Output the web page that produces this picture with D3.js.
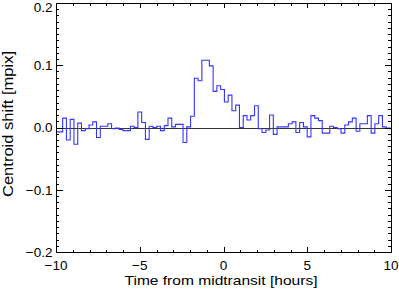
<!DOCTYPE html>
<html><head><meta charset="utf-8">
<script src="https://cdn.jsdelivr.net/npm/d3@7"></script>
<style>
html,body{margin:0;padding:0;background:#fff;}
svg{display:block;}
text{font-family:"Liberation Sans",Arial,Helvetica,sans-serif;fill:#000;}
</style></head>
<body>
<svg id="c" width="399" height="291"></svg>
<script>
// ---- data ----
const binStart = -10.052;     // left edge of first bin [hours]
const binWidth = 0.2246;      // bin width [hours]
const shiftValues = [
 -0.007,-0.007, 0.015,-0.020, 0.013,-0.027, 0.007,-0.005,-0.002, 0.004,
  0.009,-0.016, 0.002, 0.002, 0.006,-0.002,-0.001,-0.003,-0.005,-0.005,
  0.002, 0.000, 0.025, 0.008,-0.019, 0.002, 0.000, 0.002,-0.005, 0.003,
  0.015, 0.001, 0.005, 0.005,-0.024, 0.001, 0.018, 0.079, 0.075, 0.108,
  0.108, 0.099, 0.058, 0.067, 0.061, 0.041, 0.052, 0.027, 0.036, 0.000,
  0.019, 0.012, 0.019, 0.035,-0.002,-0.008,-0.004, 0.020,-0.011, 0.001,
  0.001, 0.001, 0.006, 0.009,-0.008, 0.008, 0.001,-0.015, 0.019, 0.015,
  0.011,-0.009,-0.009, 0.002, 0.000,-0.002,-0.009, 0.004, 0.009, 0.015,
 -0.006, 0.006, 0.006, 0.019,-0.009, 0.006, 0.019, 0.001,-0.001,-0.002
];
const xMajorTicks = [-10, -5, 0, 5, 10];
const xTickLabels = ["\u221210", "\u22125", "0", "5", "10"];
const yMajorTicks = [0.2, 0.1, 0.0, -0.1, -0.2];
const yTickLabels = ["0.2", "0.1", "0.0", "\u22120.1", "\u22120.2"];
const xTitle = "Time from midtransit [hours]";
const yTitle = "Centroid shift [mpix]";

// ---- layout ----
const L = 56, R = 391, T = 3, B = 252;
const svg = d3.select("#c");
const x = d3.scaleLinear().domain([-10, 10]).range([L, R]);
const y = d3.scaleLinear().domain([-0.2, 0.2]).range([B, T]);

const defs = svg.append("defs");
defs.append("clipPath").attr("id", "clip").append("rect")
  .attr("x", L).attr("y", T).attr("width", R - L).attr("height", B - T);

// zero line
svg.append("line")
  .attr("x1", L).attr("x2", R).attr("y1", Math.round(y(0)) + 0.5).attr("y2", Math.round(y(0)) + 0.5)
  .attr("stroke", "#333").attr("stroke-width", 1);

// step histogram
const pts = shiftValues.map((v, i) => [binStart + i * binWidth, v]);
pts.push([binStart + shiftValues.length * binWidth, shiftValues[shiftValues.length - 1]]);
const line = d3.line().x(d => x(d[0])).y(d => y(d[1])).curve(d3.curveStepAfter);
svg.append("path").attr("d", line(pts)).attr("clip-path", "url(#clip)")
  .attr("fill", "none").attr("stroke", "#3535ff").attr("stroke-width", 1.1);

// axes box with inward ticks
const g = svg.append("g").attr("stroke", "#000").attr("stroke-width", 1).attr("shape-rendering", "crispEdges");
g.append("rect").attr("x", L).attr("y", T).attr("width", R - L).attr("height", B - T).attr("fill", "none");

const xMinor = x.ticks(20);
xMinor.forEach(t => {
  const major = xMajorTicks.includes(t);
  const len = major ? 5 : 2.5;
  const px = Math.round(x(t)) + 0.5;
  g.append("line").attr("x1", px).attr("x2", px).attr("y1", B).attr("y2", B - len);
  g.append("line").attr("x1", px).attr("x2", px).attr("y1", T).attr("y2", T + len);
});
const yMinor = y.ticks(40);
yMinor.forEach(t => {
  const major = yMajorTicks.some(m => Math.abs(m - t) < 1e-9);
  const len = major ? 6.5 : 3.3;
  const py = Math.round(y(t)) + 0.5;
  g.append("line").attr("x1", L).attr("x2", L + len).attr("y1", py).attr("y2", py);
  g.append("line").attr("x1", R).attr("x2", R - len).attr("y1", py).attr("y2", py);
});

// tick labels
xMajorTicks.forEach((t, i) => {
  svg.append("text").attr("x", x(t)).attr("y", 270).attr("text-anchor", "middle")
    .attr("font-size", 13.5).text(xTickLabels[i]);
});
yMajorTicks.forEach((t, i) => {
  svg.append("text").attr("x", 52.5).attr("y", Math.max(y(t), 7)).attr("dy", "0.36em").attr("text-anchor", "end")
    .attr("font-size", 13.5).text(yTickLabels[i]);
});

// titles
svg.append("text").attr("x", 221).attr("y", 284.5).attr("text-anchor", "middle")
  .attr("font-size", 13.5).attr("textLength", 193).attr("lengthAdjust", "spacingAndGlyphs").text(xTitle);
svg.append("text").attr("transform", "translate(13,124) rotate(-90)").attr("text-anchor", "middle")
  .attr("font-size", 14).attr("textLength", 146).attr("lengthAdjust", "spacingAndGlyphs").text(yTitle);
</script>
</body></html>
